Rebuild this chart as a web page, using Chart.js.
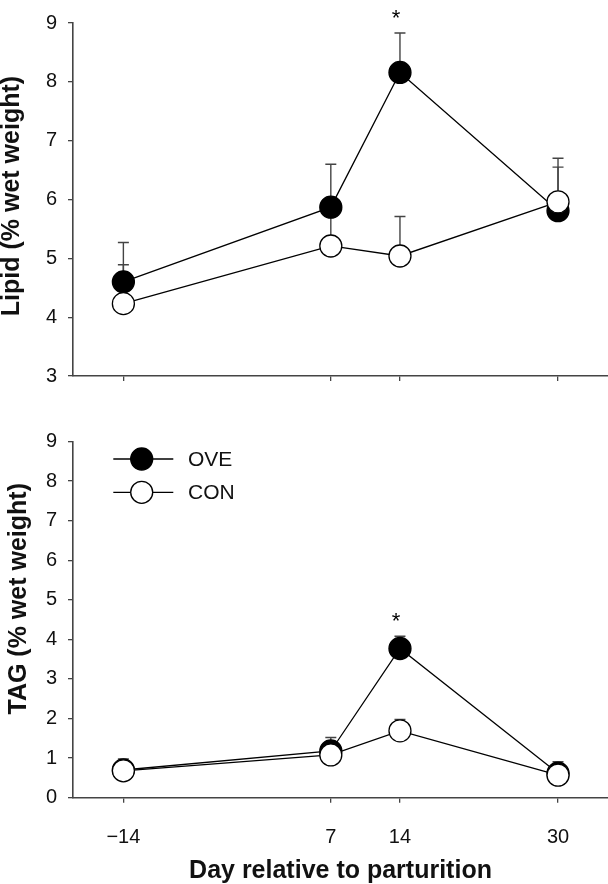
<!DOCTYPE html>
<html>
<head>
<meta charset="utf-8">
<script src="https://cdn.jsdelivr.net/npm/chart.js@4.4.1/dist/chart.umd.min.js"></script>
<style>
  body { margin: 0; background: #fff; }
  .panel { position: absolute; left: 0; }
</style>
</head>
<body>
<div class="panel" style="top:0px"><canvas id="lipidChart" width="608" height="400"></canvas></div>
<div class="panel" style="top:400px"><canvas id="tagChart" width="608" height="484"></canvas></div>
<script>
// days relative to parturition
const days = [-14, 7, 14, 30];
const dayTicks = [-14, 7, 14, 30];

// lipid (% wet weight), mean and upper SE
const lipidOve = [4.60, 5.87, 8.16, 5.81];
const lipidOveErr = [0.67, 0.73, 0.67, 0.74];
const lipidCon = [4.23, 5.21, 5.04, 5.96];
const lipidConErr = [0.66, 0.55, 0.67, 0.74];
const lipidSig = [14];

// TAG (% wet weight)
const tagOve = [0.70, 1.18, 3.77, 0.62];
const tagOveErr = [0.28, 0.34, 0.31, 0.29];
const tagCon = [0.68, 1.08, 1.69, 0.57];
const tagConErr = [0.10, 0.12, 0.29, 0.28];
const tagSig = [14];

const axisColor = '#444';
const fontFamily = '"Liberation Sans", Arial, Helvetica, sans-serif';
Chart.defaults.font.family = fontFamily;
Chart.defaults.color = '#111';

function toPoints(values) {
    return days.map(function (d, i) { return { x: d, y: values[i] }; });
}

function makeDataset(label, values, errs, fill, order) {
    return {
        label: label,
        data: toPoints(values),
        errors: errs,
        borderColor: '#000',
        borderWidth: 1.3,
        backgroundColor: fill,
        pointBackgroundColor: fill,
        pointBorderColor: '#000',
        pointBorderWidth: 1.3,
        pointRadius: 11,
        pointHoverRadius: 11,
        tension: 0,
        clip: false,
        order: order
    };
}

// upper error bars, drawn before the markers
const errorBars = {
    id: 'errorBars',
    beforeDatasetsDraw(chart) {
        const ctx = chart.ctx;
        const yScale = chart.scales.y;
        ctx.save();
        ctx.strokeStyle = axisColor;
        ctx.lineWidth = 1.4;
        chart.data.datasets.forEach(function (ds, i) {
            const meta = chart.getDatasetMeta(i);
            meta.data.forEach(function (pt, j) {
                const top = yScale.getPixelForValue(ds.data[j].y + ds.errors[j]);
                ctx.beginPath();
                ctx.moveTo(pt.x, pt.y);
                ctx.lineTo(pt.x, top);
                ctx.moveTo(pt.x - 5.5, top);
                ctx.lineTo(pt.x + 5.5, top);
                ctx.stroke();
            });
        });
        ctx.restore();
    }
};

// significance stars above the highest error bar
const sigStars = {
    id: 'sigStars',
    afterDatasetsDraw(chart, args, opts) {
        const ctx = chart.ctx;
        const xScale = chart.scales.x, yScale = chart.scales.y;
        ctx.save();
        ctx.fillStyle = '#000';
        ctx.font = '22px ' + fontFamily;
        ctx.textAlign = 'center';
        ctx.textBaseline = 'middle';
        (opts.days || []).forEach(function (d) {
            const idx = days.indexOf(d);
            let top = Infinity;
            chart.data.datasets.forEach(function (ds) {
                top = Math.min(top, yScale.getPixelForValue(ds.data[idx].y + ds.errors[idx]));
            });
            ctx.fillText('*', xScale.getPixelForValue(d) - 4, top - 14);
        });
        ctx.restore();
    }
};

// line + marker legend in the upper left of the plot area
const lineLegend = {
    id: 'lineLegend',
    afterDraw(chart, args, opts) {
        if (!opts.show) return;
        const ctx = chart.ctx;
        const area = chart.chartArea;
        ctx.save();
        chart.data.datasets.forEach(function (ds, i) {
            const y = area.top + 17.5 + i * 33.3;
            const cx = area.left + 68.7;
            ctx.strokeStyle = '#000';
            ctx.lineWidth = 1.3;
            ctx.beginPath();
            ctx.moveTo(area.left + 40.3, y);
            ctx.lineTo(area.left + 100.3, y);
            ctx.stroke();
            ctx.beginPath();
            ctx.arc(cx, y, 11, 0, Math.PI * 2);
            ctx.fillStyle = ds.pointBackgroundColor;
            ctx.fill();
            ctx.stroke();
            ctx.fillStyle = '#111';
            ctx.font = '21px ' + fontFamily;
            ctx.textAlign = 'left';
            ctx.textBaseline = 'middle';
            ctx.fillText(ds.label, area.left + 115, y + 1);
        });
        ctx.restore();
    }
};

function buildOptions(cfg) {
    return {
        responsive: false,
        animation: false,
        layout: { autoPadding: false, padding: { top: cfg.padTop, right: 0, left: 0, bottom: 0 } },
        plugins: {
            legend: { display: false },
            tooltip: { enabled: false },
            sigStars: { days: cfg.sig },
            lineLegend: { show: cfg.legend }
        },
        scales: {
            x: {
                type: 'linear',
                min: -19.1,
                max: 35.06,
                afterBuildTicks: function (s) { s.ticks = dayTicks.map(function (v) { return { value: v }; }); },
                afterFit: function (s) { s.height = cfg.xHeight; },
                border: { display: true, color: axisColor, width: 1.6 },
                grid: { drawOnChartArea: false, color: axisColor, tickLength: 5, lineWidth: 1.3 },
                ticks: {
                    display: cfg.xLabels,
                    padding: 23,
                    maxRotation: 0,
                    font: { size: 20 },
                    color: '#111',
                    callback: function (v) { return v < 0 ? '\u2212' + Math.abs(v) : String(v); }
                },
                title: {
                    display: cfg.xLabels,
                    text: 'Day relative to parturition',
                    color: '#111',
                    font: { size: 25, weight: 'bold', lineHeight: 1.0 },
                    padding: { top: 0, bottom: 0.5 }
                }
            },
            y: {
                min: cfg.yMin,
                max: 9,
                afterFit: function (s) { s.width = 73; },
                border: { display: true, color: axisColor, width: 1.6 },
                grid: { drawOnChartArea: false, color: axisColor, tickLength: 5, lineWidth: 1.3 },
                ticks: { stepSize: 1, padding: 11, font: { size: 20 }, color: '#111' },
                title: {
                    display: true,
                    text: cfg.yTitle,
                    color: '#111',
                    font: { size: 25, weight: 'bold', lineHeight: 1.0 },
                    padding: { top: cfg.yTitlePad, bottom: 0 }
                }
            }
        }
    };
}

new Chart(document.getElementById('lipidChart'), {
    type: 'line',
    data: {
        datasets: [
            makeDataset('OVE', lipidOve, lipidOveErr, '#000', 2),
            makeDataset('CON', lipidCon, lipidConErr, '#fff', 1)
        ]
    },
    options: buildOptions({
        padTop: 19, xHeight: 24, xLabels: false, yMin: 3, sig: lipidSig, legend: false,
        yTitle: ' Lipid (% wet weight)', yTitlePad: 0
    }),
    plugins: [errorBars, sigStars, lineLegend]
});

new Chart(document.getElementById('tagChart'), {
    type: 'line',
    data: {
        datasets: [
            makeDataset('OVE', tagOve, tagOveErr, '#000', 2),
            makeDataset('CON', tagCon, tagConErr, '#fff', 1)
        ]
    },
    options: buildOptions({
        padTop: 41.5, xHeight: 86.3, xLabels: true, yMin: 0, sig: tagSig, legend: true,
        yTitle: '      TAG (% wet weight)', yTitlePad: 6.7
    }),
    plugins: [errorBars, sigStars, lineLegend]
});
</script>
</body>
</html>
